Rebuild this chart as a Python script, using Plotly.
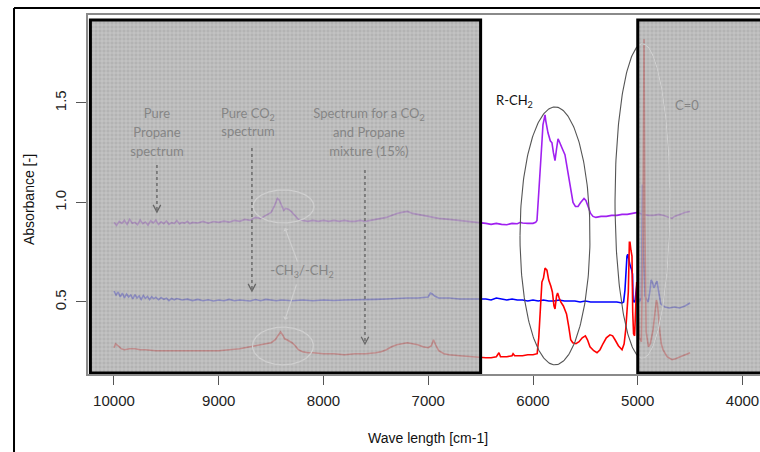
import numpy as np
import plotly.graph_objects as go

# ---- spectra (wavenumber cm-1, absorbance) ----
propane_wn = [10000, 9975, 9950, 9925, 9900, 9875, 9850, 9825, 9800, 9775, 9750, 9725, 9700, 9675,
              9650, 9625, 9600, 9575, 9550, 9525, 9500, 9475, 9450, 9425, 9400, 9375, 9350, 9325,
              9300, 9275, 9250, 9200, 9150, 9100, 9050, 9000, 8950, 8900, 8850, 8800, 8750, 8700,
              8650, 8600, 8550, 8500, 8470, 8440, 8420, 8400, 8380, 8360, 8330, 8300, 8270, 8240,
              8200, 8150, 8100, 8050, 8000, 7950, 7900, 7850, 7800, 7750, 7700, 7650, 7600, 7550,
              7500, 7450, 7400, 7350, 7300, 7250, 7200, 7150, 7100, 7050, 7000, 6950, 6900, 6800,
              6700, 6600, 6500, 6450, 6400, 6350, 6300, 6250, 6200, 6150, 6120, 6100, 6050, 6000,
              5975, 5962, 5945, 5933, 5914, 5905, 5892, 5885, 5878, 5857, 5835, 5819, 5805, 5790,
              5775, 5761, 5752, 5742, 5720, 5695, 5675, 5647, 5630, 5618, 5595, 5570, 5545, 5513,
              5495, 5475, 5450, 5427, 5400, 5350, 5300, 5250, 5200, 5150, 5100, 5050, 5000, 4975,
              4950, 4900, 4850, 4800, 4750, 4700, 4673, 4650, 4600, 4550, 4500]
propane_abs = [0.90, 0.885, 0.905, 0.895, 0.91, 0.89, 0.915, 0.895, 0.90, 0.888, 0.912, 0.893, 0.902, 0.886,
               0.908, 0.897, 0.911, 0.889, 0.903, 0.893, 0.907, 0.89, 0.899, 0.894, 0.909, 0.892, 0.90, 0.896,
               0.905, 0.893, 0.90, 0.897, 0.905, 0.896, 0.904, 0.90, 0.906, 0.901, 0.91, 0.905, 0.915, 0.91,
               0.925, 0.92, 0.935, 0.95, 0.98, 1.02, 1.01, 0.98, 0.96, 0.97, 0.965, 0.95, 0.93, 0.915,
               0.91, 0.905, 0.91, 0.905, 0.91, 0.905, 0.91, 0.905, 0.91, 0.905, 0.905, 0.91, 0.905, 0.91,
               0.915, 0.92, 0.925, 0.935, 0.945, 0.95, 0.955, 0.945, 0.94, 0.935, 0.93, 0.925, 0.92, 0.915,
               0.91, 0.905, 0.90, 0.895, 0.89, 0.895, 0.89, 0.888, 0.895, 0.893, 0.90, 0.897, 0.895, 0.895,
               0.90, 0.91, 1.05, 1.18, 1.31, 1.39, 1.42, 1.44, 1.41, 1.35, 1.31, 1.30, 1.25, 1.21,
               1.27, 1.32, 1.31, 1.30, 1.27, 1.24, 1.18, 1.10, 1.03, 1.00, 0.98, 0.98, 1.00, 1.02,
               1.01, 0.98, 0.945, 0.93, 0.925, 0.93, 0.93, 0.935, 0.935, 0.94, 0.94, 0.945, 0.95, 0.945,
               0.94, 0.935, 0.935, 0.94, 0.935, 0.925, 0.92, 0.93, 0.94, 0.95, 0.955]

co2_wn = [10000, 9980, 9960, 9940, 9920, 9900, 9880, 9860, 9840, 9820, 9800, 9780, 9760, 9740, 9720,
          9700, 9680, 9660, 9640, 9620, 9600, 9575, 9550, 9525, 9500, 9475, 9450, 9425, 9400, 9350,
          9300, 9250, 9200, 9150, 9100, 9050, 9000, 8950, 8900, 8850, 8800, 8750, 8700, 8650, 8600,
          8550, 8500, 8450, 8400, 8300, 8200, 8100, 8000, 7900, 7800, 7700, 7600, 7500, 7400, 7300,
          7200, 7100, 7000, 6980, 6960, 6940, 6900, 6800, 6700, 6600, 6500, 6450, 6400, 6350, 6300,
          6250, 6200, 6150, 6100, 6050, 6000, 5950, 5900, 5850, 5800, 5750, 5700, 5650, 5600, 5550,
          5500, 5450, 5400, 5350, 5300, 5250, 5200, 5150, 5135, 5122, 5110, 5103, 5095, 5085, 5074,
          5060, 5050, 5045, 5035, 5026, 5015, 5007, 4998, 4985, 4965, 4955, 4945, 4930, 4915, 4900,
          4885, 4873, 4860, 4845, 4830, 4816, 4800, 4780, 4769, 4740, 4700, 4650, 4600, 4550, 4500]
co2_abs = [0.555, 0.535, 0.55, 0.525, 0.545, 0.52, 0.54, 0.525, 0.535, 0.515, 0.537, 0.52, 0.53, 0.513, 0.532,
           0.518, 0.528, 0.512, 0.526, 0.516, 0.524, 0.511, 0.522, 0.513, 0.519, 0.507, 0.518, 0.511, 0.517, 0.51,
           0.514, 0.507, 0.513, 0.506, 0.511, 0.505, 0.51, 0.506, 0.513, 0.506, 0.51, 0.509, 0.505, 0.512, 0.506,
           0.513, 0.51, 0.506, 0.51, 0.506, 0.51, 0.506, 0.51, 0.507, 0.51, 0.51, 0.51, 0.513, 0.515, 0.518,
           0.52, 0.52, 0.525, 0.545, 0.54, 0.53, 0.52, 0.52, 0.515, 0.515, 0.515, 0.515, 0.51, 0.52, 0.515,
           0.51, 0.515, 0.51, 0.51, 0.505, 0.51, 0.505, 0.51, 0.505, 0.505, 0.51, 0.505, 0.505, 0.505, 0.50,
           0.505, 0.50, 0.50, 0.50, 0.50, 0.50, 0.50, 0.495, 0.50, 0.56, 0.68, 0.73, 0.74, 0.70, 0.685,
           0.665, 0.64, 0.51, 0.50, 0.505, 0.56, 0.595, 0.53, 0.50, 0.52, 1.09, 0.75, 0.53, 0.51, 0.50,
           0.55, 0.61, 0.60, 0.57, 0.59, 0.605, 0.55, 0.49, 0.485, 0.475, 0.47, 0.475, 0.47, 0.48, 0.495]

mixture_wn = [10000, 9985, 9960, 9930, 9900, 9850, 9800, 9750, 9700, 9600, 9500, 9400, 9300, 9200,
              9100, 9000, 8900, 8800, 8700, 8650, 8600, 8550, 8500, 8460, 8430, 8410, 8390, 8370,
              8350, 8320, 8300, 8270, 8240, 8200, 8150, 8100, 8000, 7900, 7800, 7700, 7600, 7500,
              7450, 7400, 7350, 7300, 7250, 7200, 7150, 7100, 7050, 7000, 6970, 6950, 6930, 6900,
              6850, 6800, 6700, 6600, 6500, 6450, 6400, 6350, 6325, 6310, 6250, 6200, 6190, 6175,
              6100, 6050, 6000, 5960, 5945, 5930, 5915, 5900, 5885, 5867, 5850, 5830, 5815, 5800,
              5790, 5775, 5765, 5750, 5735, 5710, 5680, 5660, 5640, 5620, 5590, 5560, 5530, 5500,
              5480, 5456, 5420, 5389, 5360, 5332, 5300, 5265, 5240, 5217, 5185, 5150, 5130, 5115,
              5100, 5090, 5080, 5074, 5065, 5055, 5048, 5040, 5030, 5020, 5010, 5000, 4985, 4965,
              4950, 4940, 4932, 4920, 4908, 4898, 4880, 4865, 4854, 4835, 4822, 4812, 4800, 4788,
              4775, 4759, 4720, 4673, 4640, 4597, 4550, 4500]
mixture_abs = [0.27, 0.29, 0.28, 0.265, 0.26, 0.265, 0.265, 0.26, 0.26, 0.255, 0.255, 0.255, 0.255, 0.255,
               0.255, 0.255, 0.26, 0.265, 0.275, 0.28, 0.285, 0.29, 0.295, 0.31, 0.335, 0.35, 0.335, 0.315,
               0.31, 0.30, 0.295, 0.28, 0.26, 0.25, 0.245, 0.245, 0.24, 0.24, 0.235, 0.24, 0.24, 0.245,
               0.25, 0.26, 0.275, 0.285, 0.29, 0.295, 0.29, 0.285, 0.275, 0.27, 0.28, 0.31, 0.285, 0.255,
               0.24, 0.235, 0.23, 0.225, 0.22, 0.22, 0.22, 0.225, 0.245, 0.225, 0.225, 0.23, 0.24, 0.23,
               0.23, 0.235, 0.235, 0.24, 0.32, 0.50, 0.60, 0.62, 0.67, 0.66, 0.61, 0.58, 0.55, 0.48,
               0.465, 0.53, 0.545, 0.52, 0.50, 0.48, 0.44, 0.38, 0.31, 0.295, 0.29, 0.30, 0.32, 0.33,
               0.31, 0.275, 0.255, 0.245, 0.26, 0.29, 0.32, 0.335, 0.33, 0.31, 0.28, 0.26, 0.29, 0.36,
               0.45, 0.55, 0.80, 0.80, 0.76, 0.73, 0.45, 0.34, 0.33, 0.45, 0.60, 0.55, 0.32, 0.30,
               0.90, 1.82, 0.90, 0.35, 0.29, 0.275, 0.29, 0.33, 0.36, 0.45, 0.51, 0.49, 0.40, 0.345,
               0.29, 0.26, 0.225, 0.21, 0.215, 0.225, 0.235, 0.245]

x_ticks = [10000, 9000, 8000, 7000, 6000, 5000, 4000]
y_ticks = [0.5, 1.0, 1.5]
y_tick_labels = ["0.5", "1.0", "1.5"]

X_RANGE = [10248, 3833]
Y_RANGE = [0.138, 1.942]
SHADE_LO, SHADE_HI = 0.143, 1.917

TXT_FONT = "Lato"
MASK_TEXT = "#858585"
LIGHT_LINE = "#cfcfcf"

fig = go.Figure()

# spectra
for wn, ab, col in [(propane_wn, propane_abs, "#A020F0"),
                    (co2_wn, co2_abs, "#0000FF"),
                    (mixture_wn, mixture_abs, "#FF0000")]:
    fig.add_trace(go.Scatter(x=wn, y=ab, mode="lines",
                             line=dict(color=col, width=1.6), hoverinfo="skip"))


def ellipse(cx, cy, hw, hh, n=240):
    t = np.linspace(0, 2 * np.pi, n)
    return cx + hw * np.cos(t), cy + hh * np.sin(t)


# band ellipses on the clear window
ex, ey = ellipse(5790, 0.832, 334, 0.648)
fig.add_trace(go.Scatter(x=ex, y=ey, mode="lines", line=dict(color="#555555", width=1.1),
                         hoverinfo="skip"))
cx_, cy_ = ellipse(4955, 1.0075, 262, 0.79)
fig.add_trace(go.Scatter(x=cx_, y=cy_, mode="lines", line=dict(color="#555555", width=1.1),
                         hoverinfo="skip"))

# masked (hatched) zones
for x0, x1 in [(10225, 6500), (5000, 3600)]:
    fig.add_trace(go.Scatter(
        x=[x0, x1, x1, x0, x0], y=[SHADE_LO, SHADE_LO, SHADE_HI, SHADE_HI, SHADE_LO],
        mode="lines", line=dict(width=0), fill="toself", fillcolor="#a6a6a6",
        fillpattern=dict(shape="+", size=4, solidity=0.22, fgcolor="#d0d0d0",
                         bgcolor="#a0a0a0", fillmode="replace"),
        opacity=0.8, hoverinfo="skip"))

# light outlines drawn over the masked zones
for cx, cy, hw, hh in [(8382, 0.98, 291, 0.083), (8387, 0.279, 291, 0.095)]:
    ex, ey = ellipse(cx, cy, hw, hh)
    fig.add_trace(go.Scatter(x=ex, y=ey, mode="lines", line=dict(color=LIGHT_LINE, width=1.3),
                             hoverinfo="skip"))
cxa, cya = np.array(cx_), np.array(cy_)
cya_light = np.where(cxa < 5000, cya, np.nan)
fig.add_trace(go.Scatter(x=cxa, y=cya_light, mode="lines", line=dict(color=LIGHT_LINE, width=1.3),
                         hoverinfo="skip"))


# labels sitting in the masked zones
def label(x, y, s, size=13, color=MASK_TEXT):
    fig.add_trace(go.Scatter(x=[x], y=[y], mode="text", text=[s],
                             textfont=dict(family=TXT_FONT, size=size, color=color),
                             textposition="middle center", hoverinfo="skip"))


for i, s in enumerate(["Pure", "Propane", "spectrum"]):
    label(9590, 1.44 - i * 0.0955, s)
for i, s in enumerate(["Pure CO<sub>2</sub>", "spectrum"]):
    label(8721, 1.44 - i * 0.0905, s)
for i, s in enumerate(["Spectrum for a CO<sub>2</sub>", "and Propane", "mixture (15%)"]):
    label(7566, 1.44 - i * 0.0955, s)
label(8205, 0.651, "-CH<sub>3</sub>/-CH<sub>2</sub>")
label(4530, 1.48, "C=0")

shapes = []
# dotted pointer arrows
for xa, ytop, ybot in [(9590, 1.188, 0.952), (8683, 1.274, 0.555), (7604, 1.163, 0.289)]:
    shapes.append(dict(type="line", xref="x", yref="y", x0=xa, x1=xa, y0=ytop, y1=ybot,
                       line=dict(color="#666666", width=1.4, dash="dot"), layer="above"))
    shapes.append(dict(type="path", xref="x", yref="y", layer="above",
                       path=f"M {xa + 36},{ybot + 0.036} L {xa},{ybot} L {xa - 36},{ybot + 0.036}",
                       line=dict(color="#666666", width=1.3)))
# black borders of the masked zones
for x0, x1 in [(10225, 6500), (5000, 3600)]:
    shapes.append(dict(type="rect", xref="x", yref="y", x0=x0, x1=x1, y0=SHADE_LO, y1=SHADE_HI,
                       line=dict(color="black", width=3), fillcolor="rgba(0,0,0,0)", layer="above"))
# outer frame
shapes.append(dict(type="line", xref="paper", yref="paper", x0=-0.1101, x1=1.2, y0=1.0195, y1=1.0195,
                   line=dict(color="black", width=2)))
shapes.append(dict(type="line", xref="paper", yref="paper", x0=-0.1101, x1=-0.1101, y0=-0.3, y1=1.0195,
                   line=dict(color="black", width=2)))

annotations = [
    dict(x=6172, y=1.51, xref="x", yref="y", text="R-CH<sub>2</sub>", showarrow=False,
         font=dict(family=TXT_FONT, size=13, color="#111111")),
    dict(x=8368, y=0.872, ax=8243, ay=0.696, xref="x", yref="y", axref="x", ayref="y",
         text="", showarrow=True, arrowhead=1, arrowsize=0.8, arrowwidth=1.2, arrowcolor=LIGHT_LINE),
    dict(x=8368, y=0.41, ax=8253, ay=0.595, xref="x", yref="y", axref="x", ayref="y",
         text="", showarrow=True, arrowhead=1, arrowsize=0.8, arrowwidth=1.2, arrowcolor=LIGHT_LINE),
    dict(x=(428 - 88) / 672, y=(374 - 438) / 359, xref="paper", yref="paper",
         xanchor="center", yanchor="middle",
         text="Wave length [cm-1]", showarrow=False,
         font=dict(family="Liberation Sans", size=14, color="#111111")),
    dict(x=(29 - 88) / 672, y=(374 - 200) / 359, xref="paper", yref="paper",
         xanchor="center", yanchor="middle",
         text="Absorbance [-]", showarrow=False, textangle=-90,
         font=dict(family="Liberation Sans", size=14, color="#111111")),
]

fig.update_layout(
    width=760, height=452,
    margin=dict(l=88, r=0, t=15, b=78),
    paper_bgcolor="white", plot_bgcolor="white",
    showlegend=False,
    shapes=shapes, annotations=annotations,
    xaxis=dict(range=X_RANGE, tickvals=x_ticks, ticktext=[str(v) for v in x_ticks],
               showgrid=False, zeroline=False, showline=True, mirror=True,
               linecolor="#8a8a8a", linewidth=2, ticks="outside", ticklen=9,
               tickcolor="#555555", tickwidth=1, ticklabelstandoff=3,
               tickfont=dict(family="Liberation Sans", size=15, color="#222222"),
               automargin=False),
    yaxis=dict(range=Y_RANGE, tickvals=y_ticks, ticktext=y_tick_labels,
               showgrid=False, zeroline=False, showline=True,
               linecolor="#8a8a8a", linewidth=2, ticks="outside", ticklen=10,
               tickcolor="#555555", tickwidth=1, tickangle=-90, ticklabelstandoff=4,
               tickfont=dict(family="Liberation Sans", size=15, color="#222222"),
               automargin=False),
)

fig.write_html("out.html")
